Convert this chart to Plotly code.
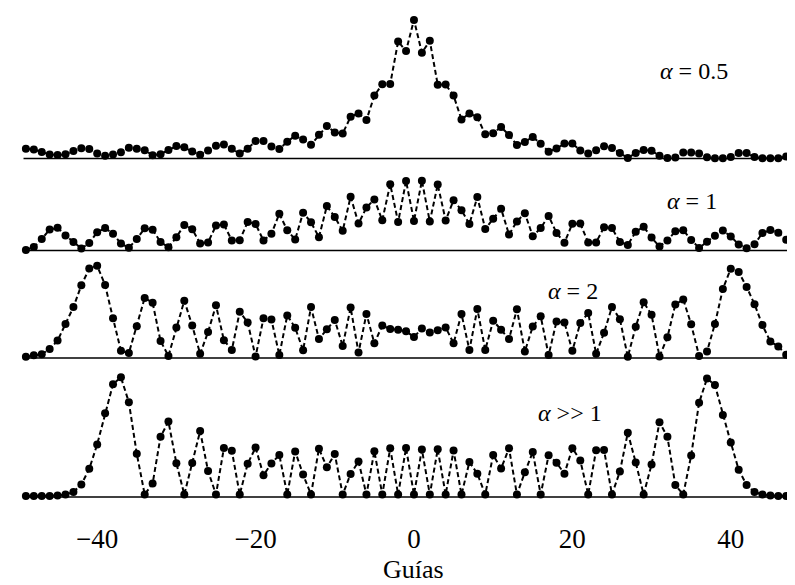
import plotly.graph_objects as go

# guide index (waveguide number)
guides = list(range(-49, 49))

alpha_05 = [9.8, 8.9, 6.6, 4.1, 3.4, 4.2, 7.6, 10.3, 9.4, 5.1,
            2.8, 3.9, 6.3, 10.8, 9.8, 8.2, 3.3, 4.3, 8.4, 12.5,
            11.2, 6.9, 3.7, 8.1, 12.8, 13.9, 9.7, 5.0, 9.8, 17.5,
            17.6, 12.0, 9.4, 16.8, 22.8, 18.9, 13.7, 23.7, 32.5, 25.9,
            25.0, 41.7, 45.1, 38.5, 62.9, 74.3, 74.4, 117.1, 107.5, 138.6,
            105.7, 117.7, 73.8, 73.9, 62.9, 39.0, 45.1, 41.2, 24.2, 25.3,
            31.4, 23.4, 13.5, 16.6, 21.6, 14.7, 6.8, 9.9, 14.9, 15.0,
            8.1, 5.1, 8.2, 12.3, 10.4, 5.4, 0.5, 5.6, 8.6, 7.7,
            2.8, 0.5, 0.9, 6.0, 6.1, 5.1, 1.2, 0.3, 0.3, 1.4,
            5.5, 5.5, 1.6, 0.3, 0.3, 0.3, 1.9, 4.0]

alpha_1 = [0.5, 3.4, 11.5, 20.9, 22.7, 15.1, 8.6, 2.0, 7.4, 18.3,
           22.4, 16.8, 6.9, 2.7, 11.5, 22.2, 20.7, 8.4, 3.2, 13.3,
           25.5, 21.3, 7.0, 8.1, 24.9, 26.0, 10.1, 10.2, 28.6, 26.5,
           9.9, 16.7, 36.8, 20.2, 11.0, 37.8, 28.2, 13.3, 44.4, 33.5,
           19.7, 53.8, 26.9, 43.0, 51.1, 30.2, 66.3, 28.4, 69.5, 29.6,
           69.7, 28.9, 66.0, 30.1, 50.2, 40.3, 26.4, 53.5, 21.6, 31.7,
           41.8, 15.9, 29.1, 37.2, 14.3, 22.4, 34.5, 17.6, 7.7, 26.8,
           26.9, 8.0, 8.1, 23.3, 22.4, 8.5, 5.6, 18.7, 23.8, 12.9,
           4.0, 10.1, 19.2, 20.3, 10.5, 2.6, 8.7, 14.8, 19.9, 14.0,
           6.1, 2.2, 6.3, 17.4, 20.5, 17.7, 10.8, 0.9]

alpha_2 = [1.3, 2.7, 3.8, 8.9, 17.4, 34.1, 50.9, 72.7, 89.4, 92.2,
           73.0, 39.7, 7.2, 4.9, 31.7, 60.1, 55.2, 17.0, 2.1, 30.5,
           57.3, 32.4, 4.2, 25.9, 52.7, 17.8, 7.9, 46.3, 35.4, 1.5,
           39.8, 38.4, 3.0, 42.6, 30.2, 7.8, 50.9, 19.0, 28.8, 38.0,
           12.0, 50.4, 5.5, 44.1, 14.7, 32.5, 28.9, 28.3, 26.8, 20.9,
           29.6, 25.4, 27.8, 30.6, 14.7, 44.1, 7.9, 49.0, 8.1, 37.2,
           28.3, 18.9, 48.7, 6.6, 31.4, 41.8, 2.9, 36.5, 35.4, 7.2,
           35.0, 45.1, 4.2, 25.3, 51.0, 38.8, 1.2, 31.3, 55.8, 43.2,
           1.6, 20.7, 53.5, 58.6, 33.7, 2.1, 6.6, 34.0, 69.1, 89.2,
           86.0, 71.1, 53.8, 32.9, 16.4, 11.5, 3.2, 0.5]

alpha_inf = [1.0, 1.0, 1.0, 1.0, 1.5, 2.5, 5.0, 12.4, 28.2, 52.6,
             83.7, 112.8, 119.7, 94.8, 43.2, 2.5, 13.4, 60.3, 75.4, 33.8,
             2.5, 34.0, 65.9, 26.0, 2.5, 48.9, 46.3, 2.5, 33.3, 49.4,
             21.8, 33.6, 42.0, 2.5, 45.6, 22.4, 2.5, 48.3, 29.8, 42.9,
             2.5, 23.1, 35.5, 2.5, 45.8, 2.5, 48.7, 2.5, 49.0, 2.5,
             47.5, 2.5, 47.7, 2.5, 46.4, 2.5, 34.9, 23.3, 2.5, 42.0,
             28.4, 48.8, 2.5, 24.7, 44.9, 2.5, 41.8, 34.2, 23.3, 48.8,
             36.6, 2.5, 46.8, 46.9, 2.5, 25.5, 64.3, 34.4, 2.5, 32.6,
             74.8, 60.2, 12.0, 2.5, 41.5, 94.3, 118.5, 111.9, 82.0, 54.5,
             27.3, 12.0, 5.0, 2.5, 1.5, 1.0, 1.0, 1.0]

series = [alpha_05, alpha_1, alpha_2, alpha_inf]
labels = ["<i>α</i> = 0.5", "<i>α</i> = 1", "<i>α</i> = 2", "<i>α</i> >> 1"]
label_pos = [(35.4, 87.5), (35.1, 49.5), (20.1, 67), (19.7, 84)]
tick_values = [-40, -20, 0, 20, 40]
x_title = "Guías"

axes = ["y", "y2", "y3", "y4"]
domains = [[0.6735, 1.0], [0.4898, 0.6735], [0.2653, 0.4898], [0.0, 0.2653]]
ranges = [[-9.5, 150.5], [-7.5, 82.5], [-10, 100], [-1, 129]]

SERIF = "Liberation Serif, Times New Roman, serif"

fig = go.Figure()
for s, ax in zip(series, axes):
    fig.add_trace(go.Scatter(
        x=guides, y=s, xaxis="x", yaxis=ax, mode="lines+markers",
        line=dict(color="black", width=2, dash="5px,3px"),
        marker=dict(color="black", size=8),
        cliponaxis=False, showlegend=False))

shapes = []
for ax in axes:
    shapes.append(dict(type="line", xref="x", yref=ax, x0=-49.3, x1=49.2, y0=0, y1=0,
                       line=dict(color="black", width=1.6)))

annotations = []
for lab, (px, py), ax in zip(labels, label_pos, axes):
    annotations.append(dict(x=px, y=py, xref="x", yref=ax, text=lab, showarrow=False,
                            font=dict(family=SERIF, size=24, color="black")))
annotations.append(dict(x=0, y=-0.145, xref="x", yref="paper", text=x_title,
                        showarrow=False, yanchor="middle",
                        font=dict(family=SERIF, size=26, color="black")))

layout = dict(
    width=795, height=585,
    margin=dict(l=0, r=0, t=0, b=95),
    paper_bgcolor="white", plot_bgcolor="white",
    shapes=shapes, annotations=annotations,
    xaxis=dict(anchor="y4", range=[-51.26, 49.12], tickvals=tick_values,
               showgrid=False, zeroline=False, showline=False,
               ticks="outside", ticklen=17, tickcolor="rgba(0,0,0,0)",
               tickfont=dict(family=SERIF, size=27, color="black")),
)
for i, ax in enumerate(axes):
    key = "yaxis" if i == 0 else f"yaxis{i+1}"
    layout[key] = dict(domain=domains[i], range=ranges[i], anchor="x",
                       visible=False, showgrid=False, zeroline=False, fixedrange=True)

fig.update_layout(**layout)
fig.write_html("out.html")
